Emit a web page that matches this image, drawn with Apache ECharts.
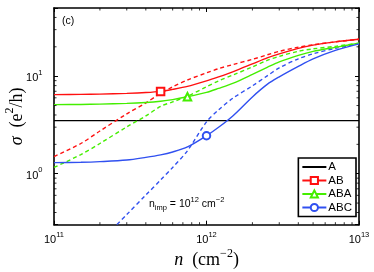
<!DOCTYPE html>
<html>
<head>
<meta charset="utf-8">
<script src="https://cdn.jsdelivr.net/npm/echarts@6/dist/echarts.min.js"></script>
<style>html,body{margin:0;padding:0;background:#fff;}#c{width:374px;height:272px;}</style>
</head>
<body>
<div id="c"></div>
<script>
// density grid n (cm^-2)
const nGrid = [1e11, 1.5e11, 2e11, 3e11, 4e11, 5e11, 6e11, 7.5e11, 1e12, 1.2e12, 1.5e12, 2e12, 2.5e12, 3e12, 4e12, 5e12, 7e12, 1e13];
// sigma (e^2/h)
const sigA   = [3.5, 3.5, 3.5, 3.5, 3.5, 3.5, 3.5, 3.5, 3.5, 3.5, 3.5, 3.5, 3.5, 3.5, 3.5, 3.5, 3.5, 3.5];
const sigAB  = [6.47, 6.50, 6.55, 6.66, 6.79, 6.98, 7.32, 7.85, 8.95, 9.84, 11.15, 13.37, 15.42, 16.94, 19.29, 20.81, 22.5, 23.87];
const sigABd = [1.50, 2.04, 2.74, 4.10, 5.32, 6.66, 7.77, 9.14, 10.81, 11.94, 13.2, 14.87, 16.55, 17.98, 19.86, 20.96, 22.5, 23.87];
const sigABA = [5.11, 5.13, 5.17, 5.26, 5.38, 5.54, 5.75, 6.15, 6.82, 7.50, 8.50, 10.43, 12.31, 14.02, 16.35, 17.98, 19.76, 21.82];
const sigABAd= [1.16, 1.57, 2.04, 3.02, 3.91, 4.90, 5.45, 6.23, 7.77, 8.95, 10.31, 12.45, 14.52, 15.97, 17.98, 19.06, 20.23, 21.82];
const sigABC = [1.30, 1.31, 1.33, 1.38, 1.47, 1.56, 1.67, 1.88, 2.45, 2.99, 3.96, 6.13, 8.24, 9.84, 12.6, 15.06, 18.4, 21.46];
const nABCd  = [2.4e11, 3e11, 4e11, 5e11, 6e11, 7.5e11, 1e12, 1.2e12, 1.5e12, 2e12, 2.5e12, 3e12, 4e12, 5e12, 7e12, 1e13];
const sigABCd= [0.268, 0.381, 0.604, 0.861, 1.16, 1.72, 3.40, 4.51, 5.99, 7.95, 10.07, 12.17, 15.06, 16.94, 19.29, 21.46];
// marker positions (index into nGrid)
const mkAB = 5, mkABA = 7, mkABC = 8;
const legendNames = ['A', 'AB', 'ABA', 'ABC'];
const xRange = [1e11, 1e13];
const yRange = [0.3, 50];
const minorX = [2e11, 3e11, 4e11, 5e11, 6e11, 7e11, 8e11, 9e11, 2e12, 3e12, 4e12, 5e12, 6e12, 7e12, 8e12, 9e12];
const minorY = [0.4, 0.5, 0.6, 0.7, 0.8, 0.9, 2, 3, 4, 5, 6, 7, 8, 9, 20, 30, 40];

const RED = '#ff1010', GREEN = '#44ee00', BLUE = '#3050f0';

function pts(xs, ys, mk) {
  return xs.map((x, i) => i === mk ? { value: [x, ys[i]] } : { value: [x, ys[i]], symbol: 'none' });
}
function solid(name, ys, mk, color, sym) {
  return {
    name, type: 'line', data: pts(nGrid, ys, mk), smooth: 0.3,
    symbol: sym, symbolSize: 7.5, showSymbol: true, showAllSymbol: true,
    itemStyle: { color: color, borderColor: color, borderWidth: 1.3 },
    lineStyle: { color: color, width: 1.4 }, z: 3, emphasis: { disabled: true }
  };
}
function dashed(name, xs, ys, color) {
  return {
    name, type: 'line', data: xs.map((x, i) => [x, ys[i]]), smooth: 0.3,
    symbol: 'none', lineStyle: { color: color, width: 1.4, type: [4, 3] }, z: 2, emphasis: { disabled: true }
  };
}
function supLabel(v) {
  const l = Math.log10(v), e = Math.round(l);
  if (Math.abs(l - e) > 1e-6) return '';
  return '{b|10}{s|' + e + '}';
}
const rich = {
  b: { fontSize: 11, fontFamily: 'Liberation Sans', color: '#000', verticalAlign: 'bottom', lineHeight: 15 },
  s: { fontSize: 7.5, fontFamily: 'Liberation Sans', color: '#000', verticalAlign: 'top', lineHeight: 15 }
};
const nameRich = {
  i: { fontSize: 18, fontFamily: 'Liberation Serif', fontStyle: 'italic', color: '#000', verticalAlign: 'bottom', lineHeight: 22 },
  t: { fontSize: 18, fontFamily: 'Liberation Serif', color: '#000', verticalAlign: 'bottom', lineHeight: 22 },
  s: { fontSize: 12, fontFamily: 'Liberation Serif', color: '#000', verticalAlign: 'top', lineHeight: 22 }
};
const frameLine = { show: true, lineStyle: { color: '#000', width: 1.6 } };
const tickIn = { show: true, inside: true, length: 4, lineStyle: { color: '#000', width: 1 } };

function minorTicks(isX) {
  return {
    type: 'custom', silent: true, clip: false, z: 5,
    data: (isX ? minorX : minorY).map(v => isX ? [v, yRange[0]] : [xRange[0], v]),
    renderItem: function (params, api) {
      const L = 2.5;
      if (isX) {
        const a = api.coord([api.value(0), yRange[0]]);
        const b = api.coord([api.value(0), yRange[1]]);
        return { type: 'group', children: [
          { type: 'line', shape: { x1: a[0], y1: a[1], x2: a[0], y2: a[1] - L }, style: { stroke: '#000', lineWidth: 0.8 } },
          { type: 'line', shape: { x1: b[0], y1: b[1], x2: b[0], y2: b[1] + L }, style: { stroke: '#000', lineWidth: 0.8 } }
        ] };
      }
      const a = api.coord([xRange[0], api.value(1)]);
      const b = api.coord([xRange[1], api.value(1)]);
      return { type: 'group', children: [
        { type: 'line', shape: { x1: a[0], y1: a[1], x2: a[0] + L, y2: a[1] }, style: { stroke: '#000', lineWidth: 0.8 } },
        { type: 'line', shape: { x1: b[0], y1: b[1], x2: b[0] - L, y2: b[1] }, style: { stroke: '#000', lineWidth: 0.8 } }
      ] };
    }
  };
}

const chart = echarts.init(document.getElementById('c'), null, { renderer: 'canvas' });
chart.setOption({
  animation: false,
  backgroundColor: '#fff',
  grid: { left: 54, right: 15, top: 8, bottom: 47.3, containLabel: false, outerBoundsMode: 'none' },
  xAxis: [
    { type: 'log', logBase: 10, min: xRange[0], max: xRange[1], position: 'bottom',
      axisLine: frameLine, axisTick: tickIn, splitLine: { show: false },
      axisLabel: { formatter: supLabel, rich, margin: 6, showMinLabel: true, showMaxLabel: true },
      name: '{i|n}{t|  (cm}{s|−2}{t|)}', nameLocation: 'middle', nameGap: 23, nameMoveOverlap: false,
      nameTextStyle: { rich: nameRich } },
    { type: 'log', logBase: 10, min: xRange[0], max: xRange[1], position: 'top',
      axisLine: frameLine, axisTick: tickIn, splitLine: { show: false },
      axisLabel: { show: false } }
  ],
  yAxis: [
    { type: 'log', logBase: 10, min: yRange[0], max: yRange[1], position: 'left',
      axisLine: frameLine, axisTick: tickIn, splitLine: { show: false },
      axisLabel: { formatter: supLabel, rich, margin: 11.5 },
      name: '{i|σ}{t|  (e}{s|2}{t|/h)}', nameLocation: 'middle', nameGap: 28, nameRotate: 90, nameMoveOverlap: false,
      nameTextStyle: { rich: nameRich } },
    { type: 'log', logBase: 10, min: yRange[0], max: yRange[1], position: 'right',
      axisLine: frameLine, axisTick: tickIn, splitLine: { show: false },
      axisLabel: { show: false } }
  ],
  legend: {
    data: [
      { name: 'A', itemStyle: { color: 'rgba(0,0,0,0)', borderColor: 'rgba(0,0,0,0)' } },
      'AB', 'ABA', 'ABC'
    ],
    orient: 'vertical', right: 18, top: 158,
    backgroundColor: '#fff', borderColor: '#000', borderWidth: 1.6,
    padding: [3, 4, 3, 3], itemGap: 1.5, itemWidth: 24, itemHeight: 9,
    textStyle: { fontSize: 11.5, fontFamily: 'Liberation Sans', color: '#000', padding: [0, 0, 0, -3] },
    selectedMode: false
  },
  graphic: [
    { type: 'text', left: 62, top: 16, style: { text: '(c)', fontSize: 10.5, fontFamily: 'Liberation Sans', fill: '#000' } },
    { type: 'text', left: 149, top: 196, style: {
      text: '{t|n}{sb|imp}{t| = 10}{sp|12}{t| cm}{sp|−2}',
      rich: {
        t: { fontSize: 10.5, fontFamily: 'Liberation Sans', fill: '#000', verticalAlign: 'middle', lineHeight: 16 },
        sb: { fontSize: 7.5, fontFamily: 'Liberation Sans', fill: '#000', verticalAlign: 'bottom', lineHeight: 16 },
        sp: { fontSize: 7.5, fontFamily: 'Liberation Sans', fill: '#000', verticalAlign: 'top', lineHeight: 16 }
      } } }
  ],
  series: [
    { name: 'A', type: 'line', data: nGrid.map((x, i) => [x, sigA[i]]), symbol: 'none',
      itemStyle: { color: '#000' }, lineStyle: { color: '#000', width: 1.4 }, z: 1, emphasis: { disabled: true } },
    dashed('AB dashed', nGrid, sigABd, RED),
    dashed('ABA dashed', nGrid, sigABAd, GREEN),
    dashed('ABC dashed', nABCd, sigABCd, BLUE),
    solid('AB', sigAB, mkAB, RED, 'emptyRect'),
    solid('ABA', sigABA, mkABA, GREEN, 'emptyTriangle'),
    solid('ABC', sigABC, mkABC, BLUE, 'emptyCircle'),
    minorTicks(true),
    minorTicks(false)
  ]
});
</script>
</body>
</html>
